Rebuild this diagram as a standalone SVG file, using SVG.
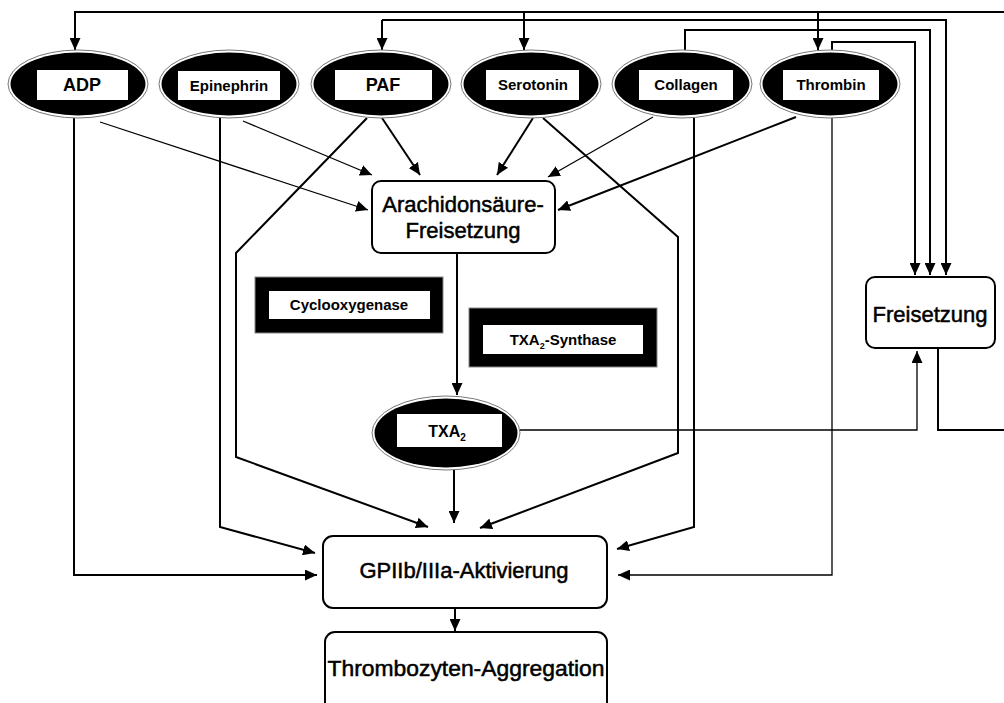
<svg xmlns="http://www.w3.org/2000/svg" width="1004" height="703" viewBox="0 0 1004 703">
<style>
.bg{fill:#fff}
.ell-o{fill:#fff;stroke:#777;stroke-width:1}
.ell-i{fill:#000}
.lab{fill:#fff}
.t{font-family:"Liberation Sans",Arial,sans-serif;fill:#000;text-anchor:middle}
.b{font-weight:bold}
.big{stroke:#000;stroke-width:0.5}
.box{fill:#fff;stroke:#000;stroke-width:2}
.c{fill:none;stroke:#000;stroke-linejoin:miter}
.w2{stroke-width:2}
.w1{stroke-width:1.3}
</style>
<defs>
<marker id="ah" markerUnits="userSpaceOnUse" markerWidth="12" markerHeight="11" refX="12" refY="5.5" orient="auto">
<path d="M0,0 L12,5.5 L0,11 z" fill="#000"/>
</marker>
</defs>
<rect class="bg" x="0" y="0" width="1004" height="703"/>

<g id="connectors">
<path class="c w2" d="M1004,12 H75 V50" marker-end="url(#ah)"/>
<path class="c w2" d="M524,12 V50" marker-end="url(#ah)"/>
<path class="c w2" d="M818,12 V50" marker-end="url(#ah)"/>
<path class="c w2" d="M382,20 V50" marker-end="url(#ah)"/>
<path class="c w2" d="M382,20 H946 V275" marker-end="url(#ah)"/>
<path class="c w2" d="M685,50 V30 H930 V275" marker-end="url(#ah)"/>
<path class="c w2" d="M832,50 V42 H915 V275" marker-end="url(#ah)"/>
<path class="c w2" d="M938,349 V430 H1004"/>
<path class="c w1" d="M520,430 H917 V351" marker-end="url(#ah)"/>

<path class="c w1" d="M100,122 L368,210" marker-end="url(#ah)"/>
<path class="c w1" d="M243,121 L372,175" marker-end="url(#ah)"/>
<path class="c w2" d="M382,118 L420,175" marker-end="url(#ah)"/>
<path class="c w2" d="M533,118 L497,175" marker-end="url(#ah)"/>
<path class="c w1" d="M653,117 L548,177" marker-end="url(#ah)"/>
<path class="c w2" d="M796,117 L558,210" marker-end="url(#ah)"/>

<path class="c w2" d="M74,118 V575 H317" marker-end="url(#ah)"/>
<path class="c w2" d="M220,118 V527 L315,553" marker-end="url(#ah)"/>
<path class="c w2" d="M367,118 L236,253 V457 L428,527" marker-end="url(#ah)"/>
<path class="c w2" d="M543,118 L678,237 V453 L480,528" marker-end="url(#ah)"/>
<path class="c w2" d="M694,118 V527 L617,549" marker-end="url(#ah)"/>
<path class="c w1" d="M832,118 V575 H618" marker-end="url(#ah)"/>
<path class="c w2" d="M457,253 V395" marker-end="url(#ah)"/>
<path class="c w2" d="M454,470 V523" marker-end="url(#ah)"/>
<path class="c w2" d="M455,608 V631" marker-end="url(#ah)"/>
</g>

<g id="ADP">
<ellipse class="ell-o" cx="78" cy="84" rx="70" ry="34"/>
<ellipse class="ell-i" cx="78" cy="84" rx="67.5" ry="31.5"/>
<rect class="lab" x="37" y="70" width="91" height="30"/>
<text class="t b" x="82" y="91" font-size="18">ADP</text>
</g>
<g id="Epinephrin">
<ellipse class="ell-o" cx="229" cy="84" rx="70" ry="34"/>
<ellipse class="ell-i" cx="229" cy="84" rx="67.5" ry="31.5"/>
<rect class="lab" x="178" y="71" width="102" height="29"/>
<text class="t b" x="229" y="91" font-size="15">Epinephrin</text>
</g>
<g id="PAF">
<ellipse class="ell-o" cx="381" cy="84" rx="70" ry="34"/>
<ellipse class="ell-i" cx="381" cy="84" rx="67.5" ry="31.5"/>
<rect class="lab" x="335" y="70" width="97" height="30"/>
<text class="t b" x="383" y="91" font-size="18">PAF</text>
</g>
<g id="Serotonin">
<ellipse class="ell-o" cx="531" cy="84" rx="70" ry="34"/>
<ellipse class="ell-i" cx="531" cy="84" rx="67.5" ry="31.5"/>
<rect class="lab" x="486" y="70" width="93" height="30"/>
<text class="t b" x="533" y="90" font-size="15">Serotonin</text>
</g>
<g id="Collagen">
<ellipse class="ell-o" cx="682" cy="84" rx="70" ry="34"/>
<ellipse class="ell-i" cx="682" cy="84" rx="67.5" ry="31.5"/>
<rect class="lab" x="639" y="70" width="94" height="30"/>
<text class="t b" x="686" y="90" font-size="15">Collagen</text>
</g>
<g id="Thrombin">
<ellipse class="ell-o" cx="830" cy="84" rx="70" ry="34"/>
<ellipse class="ell-i" cx="830" cy="84" rx="67.5" ry="31.5"/>
<rect class="lab" x="783" y="70" width="96" height="30"/>
<text class="t b" x="831" y="90" font-size="15">Thrombin</text>
</g>

<g id="Arachidonsaeure">
<rect class="box" x="372" y="181" width="183" height="72" rx="9"/>
<text class="t big" x="463" y="212" font-size="22">Arachidonsäure-</text>
<text class="t big" x="463" y="238" font-size="22">Freisetzung</text>
</g>

<g id="Cyclooxygenase">
<rect x="255" y="277" width="188" height="56" fill="#000" stroke="#888" stroke-width="1"/>
<rect class="lab" x="269" y="291" width="161" height="28"/>
<text class="t b" x="349" y="310" font-size="15">Cyclooxygenase</text>
</g>

<g id="TXA2Synthase">
<rect x="469" y="308" width="188" height="59" fill="#000" stroke="#888" stroke-width="1"/>
<rect class="lab" x="483" y="325" width="160" height="29"/>
<text class="t b" x="563" y="345" font-size="15">TXA<tspan font-size="9" dy="4">2</tspan><tspan dy="-4">-Synthase</tspan></text>
</g>

<g id="TXA2">
<ellipse class="ell-o" cx="446" cy="433" rx="74" ry="37"/>
<ellipse class="ell-i" cx="446" cy="433" rx="71.5" ry="34.5"/>
<rect class="lab" x="397" y="414" width="105" height="33"/>
<text class="t b" x="447" y="437" font-size="16">TXA<tspan font-size="10" dy="4">2</tspan></text>
</g>

<g id="Freisetzung">
<rect class="box" x="866" y="277" width="129" height="71" rx="9"/>
<text class="t big" x="930" y="322" font-size="22">Freisetzung</text>
</g>

<g id="GPIIbIIIa">
<rect class="box" x="323" y="536" width="284" height="72" rx="10"/>
<text class="t big" x="464" y="578" font-size="22">GPIIb/IIIa-Aktivierung</text>
</g>

<g id="Thrombozyten">
<rect class="box" x="325" y="632" width="282" height="82" rx="10"/>
<text class="t big" x="466" y="676" font-size="22" textLength="277" lengthAdjust="spacingAndGlyphs">Thrombozyten-Aggregation</text>
</g>
</svg>
